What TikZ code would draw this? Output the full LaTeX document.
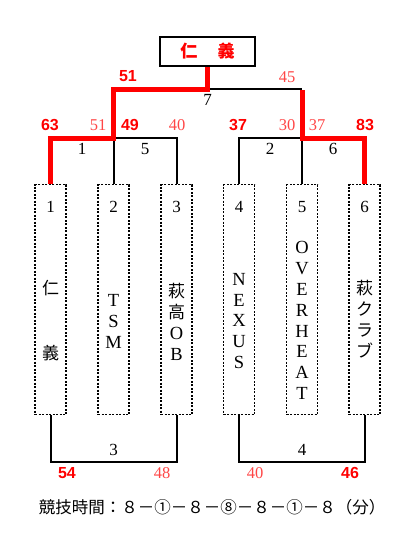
\documentclass[tikz,border=0pt]{standalone}
\usepackage{fontspec}
\setmainfont{Liberation Serif}
\newfontfamily\jpfont{Noto Sans CJK JP}
\newfontfamily\lsans{Liberation Sans}
\definecolor{wred}{RGB}{255,0,0}
\definecolor{lred}{RGB}{255,70,70}
\tikzset{
  win/.style={draw=wred, line width=5pt},
  lose/.style={draw=black, line width=2pt},
  team/.style={draw, line width=1.6pt, dash pattern=on 2pt off 1.5pt, minimum width=31pt, minimum height=230pt, inner sep=0pt},
  wlab/.style={text=wred, font=\lsans\bfseries\fontsize{16}{16}\selectfont, inner sep=0pt},
  llab/.style={text=lred, font=\fontsize{16.5}{16}\selectfont, inner sep=0pt},
  mnum/.style={font=\fontsize{17}{17}\selectfont, inner sep=0pt},
  vtxt/.style={align=center, inner sep=0pt, font=\fontsize{18.5}{20.8}\selectfont},
  vjp/.style={align=center, inner sep=0pt, font=\jpfont\fontsize{17}{21}\selectfont},
}
\begin{document}
\begin{tikzpicture}[x=1pt,y=-1pt]
\useasboundingbox (0,0) rectangle (417,543);
% champion box
\node[draw, line width=2pt, minimum width=95pt, minimum height=29pt, inner sep=0pt, text=wred, font=\jpfont\bfseries\fontsize{17}{17}\selectfont] (champ) at (207.5,51.5) {仁\hspace{1.2em}義};
% team boxes
\foreach \i/\x in {1/50.5,2/113.5,3/176.5,4/239,5/302,6/364.5}{
  \node[team] (t\i) at (\x,299.5) {};
  \node[mnum] (n\i) at (\x,207) {\i};
}
% team names
\node[align=center, inner sep=0pt, font=\jpfont\fontsize{17}{65}\selectfont] (name1) at (50.5,320.5) {仁\\義};
\node[vtxt] (name2) at (113.5,321.5) {T\\S\\M};
\node[vjp] (name3) at (176.5,321.5) {萩\\高\\{\fontspec{Liberation Serif}\fontsize{18.5}{21}\selectfont O}\\{\fontspec{Liberation Serif}\fontsize{18.5}{21}\selectfont B}};
\node[vtxt] (name4) at (239,321) {N\\E\\X\\U\\S};
\node[vtxt] (name5) at (302,320.5) {O\\V\\E\\R\\H\\E\\A\\T};
\node[vjp] (name6) at (364.5,319.5) {萩\\ク\\ラ\\ブ};
% coordinates
\coordinate (m7) at (207.5,89);
\coordinate (m7L) at (113.5,89);
\coordinate (m7R) at (302,89);
\coordinate (s1L) at (50.5,138);
\coordinate (s1M) at (113.5,138);
\coordinate (s1R) at (176.5,138);
\coordinate (s2L) at (239,138);
\coordinate (s2M) at (302,138);
\coordinate (s2R) at (364.5,138);
\coordinate (b3L) at (50.5,462);
\coordinate (b3R) at (176.5,462);
\coordinate (b4L) at (239,462);
\coordinate (b4R) at (364.5,462);
% black lines
\draw[lose] (m7) -- (m7R);
\draw[lose] (s1M) -- (t2.north);
\draw[lose] (s1M) -- (s1R) -- (t3.north);
\draw[lose] (s2M) -- (t5.north);
\draw[lose] (s2M) -- (s2L) -- (t4.north);
\draw[lose] (t1.south) -- (b3L) -- (b3R) -- (t3.south);
\draw[lose] (t4.south) -- (b4L) -- (b4R) -- (t6.south);
% red lines
\draw[win] (champ.south) -- (m7) -- (m7L) -- (s1M) -- (s1L) -- (t1.north);
\draw[win] ([yshift=-1pt]m7R) -- (s2M) -- (s2R) -- (t6.north);
% match labels
\node[mnum] (l7) at (207.5,100) {7};
\node[mnum] (l1) at (82,149) {1};
\node[mnum] (l5) at (145,149) {5};
\node[mnum] (l2) at (270,149) {2};
\node[mnum] (l6) at (333,149) {6};
\node[mnum] (l3) at (113.5,450) {3};
\node[mnum] (l4) at (302,450) {4};
% scores
\node[wlab] (sc51) at (128,76) {51};
\node[llab] (sc45) at (287,77) {45};
\node[wlab] (sc63) at (50,125) {63};
\node[llab] (sc51b) at (98,125) {51};
\node[wlab] (sc49) at (130,125) {49};
\node[llab] (sc40) at (177,125) {40};
\node[wlab] (sc37) at (238,125) {37};
\node[llab] (sc30) at (287,125) {30};
\node[llab] (sc37b) at (317,125) {37};
\node[wlab] (sc83) at (365,125) {83};
\node[wlab] (sc54) at (67,473) {54};
\node[llab] (sc48) at (162,473) {48};
\node[llab] (sc40b) at (255,473) {40};
\node[wlab] (sc46) at (350,473) {46};
% footer
\node[inner sep=0pt, font=\jpfont\fontsize{16.5}{16.5}\selectfont] (foot) at (212,507) {競技時間：８－①－８－⑧－８－①－８（分）};
\end{tikzpicture}
\end{document}
